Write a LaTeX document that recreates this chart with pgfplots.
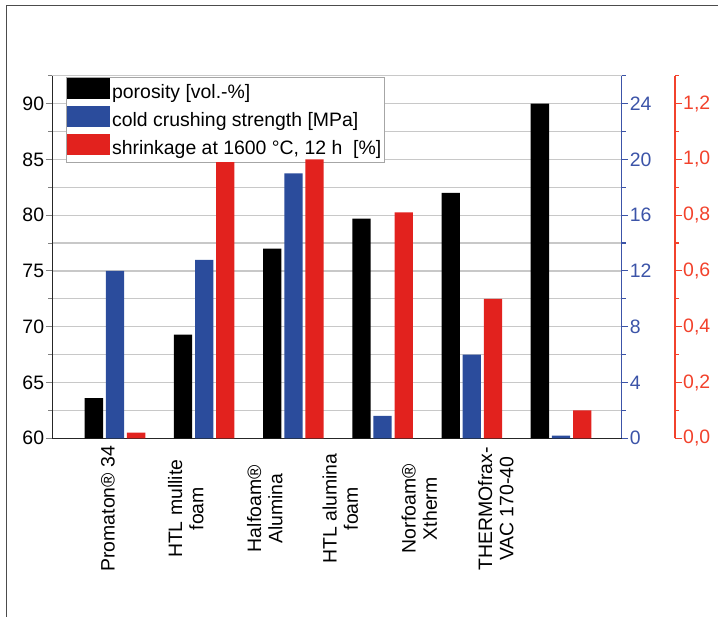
\documentclass[border=0pt]{standalone}
\usepackage{fontspec}
\setmainfont{Liberation Sans}
\usepackage{pgfplots}
\pgfplotsset{compat=1.18}
\definecolor{cblue}{RGB}{43,76,156}
\definecolor{cred}{RGB}{226,34,30}
\definecolor{ablue}{RGB}{60,84,168}
\definecolor{ared}{RGB}{242,66,44}
\definecolor{cgrid}{RGB}{200,200,200}
\newcommand{\fs}{\fontsize{19.5}{21.5}\selectfont}
\pgfplotsset{
  swatch/.style={legend image code/.code={\fill[##1] (0bp,-5bp) rectangle (43bp,16bp);}},
  common/.style={
    scale only axis, width=569.4bp, height=362.6bp,
    at={(52.3bp,178.7bp)}, anchor=south west,
    xmin=-0.7029, xmax=5.6805,
    tick align=outside, major tick length=6.5bp, minor tick length=4bp,
    /pgf/number format/assume math mode=true,
    tick label style={font=\fs},
    yticklabel style={inner xsep=1.5bp},
    tick style={line width=1.1bp},
    bar width=0.205,
  }
}
\begin{document}
\begin{tikzpicture}
\useasboundingbox (0bp,0bp) rectangle (718bp,617bp);
\draw[line width=1.3bp, black!70] (6.5bp,0bp) -- (6.5bp,611.5bp) -- (718bp,611.5bp);

\begin{axis}[common,
  ymin=60, ymax=92.5,
  axis y line*=left, axis x line*=bottom,
  axis line style={line width=1.3bp, black!85},
  ytick={60,65,70,75,80,85,90},
  minor ytick={62.5,67.5,72.5,77.5,82.5,87.5,92.5},
  ymajorgrids=true, yminorgrids=true,
  grid style={cgrid, line width=1.3bp},
  xtick={-0.0785,0.7937,1.6794,2.5258,3.4114,4.2691},
  xticklabels={Promaton® 34, {HTL mullite\\foam}, {Halfoam®\\Alumina}, {HTL alumina\\foam}, {Norfoam®\\Xtherm}, {THERMOfrax-\\VAC 170-40}},
  major x tick style={draw=none},
  xticklabel shift=64bp,
  xticklabel style={rotate=90, anchor=center, align=center},
  legend cell align=left,
  legend style={at={(0.0235,0.997)}, anchor=north west, draw=gray!70, line width=0.9bp,
    fill=white, inner xsep=0.5bp, inner ysep=0.5bp, row sep=0pt, font=\fs,
    nodes={inner xsep=2.5bp, inner ysep=2.5bp, text height=14bp, text depth=5bp}},
]
\addplot[ybar, bar shift=-0.237, fill=black, draw=none, swatch] coordinates {
  (0,63.6) (1,69.3) (2,77.0) (3,79.7) (4,82.0) (5,90.0)};
\addlegendentry{porosity [vol.-\%]}
\addlegendimage{fill=cblue, draw=none, swatch}
\addlegendentry{cold crushing strength [MPa]}
\addlegendimage{fill=cred, draw=none, swatch}
\addlegendentry{shrinkage at 1600 °C, 12 h\ \ [\%]}
\end{axis}

\begin{axis}[common,
  ymin=0, ymax=26,
  axis y line*=right, axis x line=none, xtick=\empty,
  axis line style={line width=1.3bp, ablue},
  tick style={ablue},
  yticklabel style={text=ablue},
  ytick={0,4,8,12,16,20,24},
  minor ytick={2,6,10,14,18,22,26},
]
\addplot[ybar, bar shift=0, fill=cblue, draw=none] coordinates {
  (0,12.0) (1,12.8) (2,19.0) (3,1.6) (4,6.0) (5,0.2)};
\end{axis}

\begin{axis}[common,
  width=622.7bp, xmax=6.278,
  ymin=0, ymax=1.3,
  axis y line*=right, axis x line=none, xtick=\empty,
  axis line style={line width=1.3bp, ared},
  tick style={ared},
  yticklabel style={text=ared, /pgf/number format/use comma, /pgf/number format/fixed,
    /pgf/number format/fixed zerofill, /pgf/number format/precision=1},
  ytick={0,0.2,0.4,0.6,0.8,1.0,1.2},
  minor ytick={0.1,0.3,0.5,0.7,0.9,1.1,1.3},
]
\addplot[ybar, bar shift=0.237, fill=cred, draw=none] coordinates {
  (0,0.02) (1,0.99) (2,1.0) (3,0.81) (4,0.50) (5,0.10)};
\end{axis}
\end{tikzpicture}
\end{document}
